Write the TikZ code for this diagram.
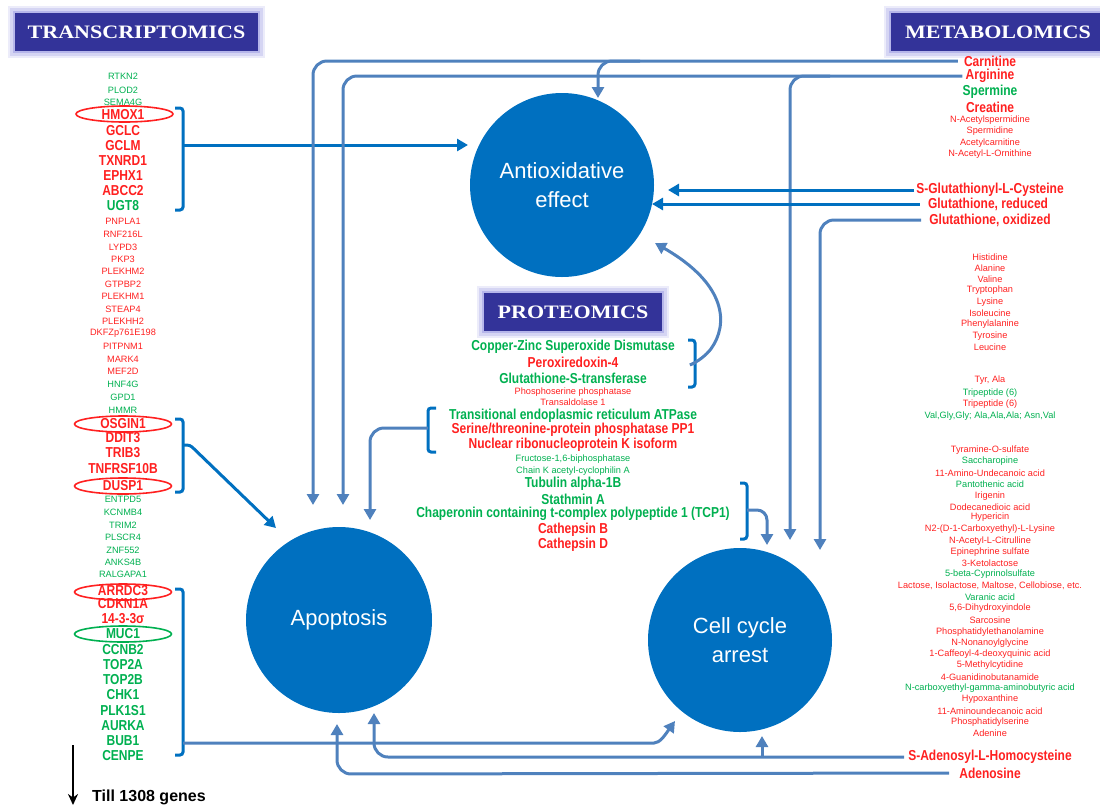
\documentclass[tikz,border=0pt]{standalone}
\usepackage{fontspec}
\setmainfont{Liberation Sans}
\newfontfamily\serifbold{Liberation Serif}
\usetikzlibrary{arrows.meta,backgrounds,calc,shapes.geometric}
\definecolor{myred}{RGB}{255,32,32}
\definecolor{mygreen}{RGB}{0,176,80}
\definecolor{cblue}{RGB}{0,112,192}
\definecolor{bblue}{RGB}{0,112,192}
\definecolor{ablue}{RGB}{79,129,189}
\definecolor{lblue}{RGB}{51,51,153}
\definecolor{glowc}{RGB}{150,150,225}
\newcommand\plainbox[1]{#1}
\newcommand\tallbox[1]{\scalebox{1}[1.2]{#1}}
\newcommand\widebox[1]{\scalebox{1.16}[1]{#1}}
\let\fmt\plainbox
\tikzset{
 sr/.style={inner sep=0pt, text=myred, font=\fontsize{9.2}{10}\selectfont, /utils/exec=\let\fmt\plainbox},
 sg/.style={inner sep=0pt, text=mygreen, font=\fontsize{9.2}{10}\selectfont, /utils/exec=\let\fmt\plainbox},
 br/.style={inner sep=0pt, text=myred, font=\fontsize{12}{14}\selectfont\bfseries, /utils/exec=\let\fmt\tallbox},
 bg/.style={inner sep=0pt, text=mygreen, font=\fontsize{12}{14}\selectfont\bfseries, /utils/exec=\let\fmt\tallbox},
 circ/.style={circle, fill=cblue, minimum size=184pt, inner sep=0pt, text=white, font=\fontsize{22}{29}\selectfont, align=center},
 lbl/.style={fill=lblue, text=white, font=\serifbold\bfseries\fontsize{19}{20}\selectfont, minimum height=38pt, inner sep=0pt},
 arr/.style={draw=ablue, line width=3pt, -{Triangle[length=11pt,width=12pt]}, rounded corners=14pt},
 barr/.style={arr, draw=bblue},
 brk/.style={draw=bblue, line width=3pt, rounded corners=3pt},
 oval/.style={draw, line width=1.6pt, ellipse, minimum width=97pt, minimum height=16pt, inner sep=0pt},
}
\begin{document}
\begin{tikzpicture}[x=1pt,y=-1pt]
\useasboundingbox (0,0) rectangle (1100,807);

% circles
\node[circ] (anti) at (562,185) {Antioxidative\\effect};
\node[circ, minimum size=186pt] (apop) at (339,620) {Apoptosis};
\node[circ] (cell) at (740,640) {Cell cycle\\arrest};

% labels
\node[lbl, minimum width=243pt] (tlab) at (136.5,32) {\widebox{TRANSCRIPTOMICS}};
\node[lbl, minimum width=214pt] (mlab) at (998,32) {\widebox{METABOLOMICS}};
\node[lbl, minimum width=178pt] (plab) at (573,312) {\widebox{PROTEOMICS}};
\begin{scope}[on background layer]
\foreach \n in {tlab,mlab,plab}{
 \fill[glowc!18] ($(\n.south west)+(-7,7)$) rectangle ($(\n.north east)+(7,-7)$);
 \fill[glowc!40] ($(\n.south west)+(-4.5,4.5)$) rectangle ($(\n.north east)+(4.5,-4.5)$);
 \fill[glowc!70] ($(\n.south west)+(-2,2)$) rectangle ($(\n.north east)+(2,-2)$);
}
\end{scope}

% transcriptomics genes
\foreach \yy/\gname/\gst [count=\i] in {
76/RTKN2/sg, 90/PLOD2/sg, 102/SEMA4G/sg, 115/HMOX1/br, 131/GCLC/br, 146/GCLM/br,
161/TXNRD1/br, 176/EPHX1/br, 191/ABCC2/br, 206/UGT8/bg, 221/PNPLA1/sr, 234/RNF216L/sr,
247/LYPD3/sr, 259/PKP3/sr, 271/PLEKHM2/sr, 284/GTPBP2/sr, 296/PLEKHM1/sr, 309/STEAP4/sr,
321/PLEKHH2/sr, 333/DKFZp761E198/sr, 346/PITPNM1/sr, 359/MARK4/sr, 371/MEF2D/sr,
384/HNF4G/sg, 397/GPD1/sg, 410/HMMR/sg, 424/OSGIN1/br, 438/DDIT3/br, 453/TRIB3/br,
469/TNFRSF10B/br, 486/DUSP1/br, 499/ENTPD5/sg, 512/KCNMB4/sg, 525/TRIM2/sg, 537/PLSCR4/sg,
550/ZNF552/sg, 562/ANKS4B/sg, 574/RALGAPA1/sg, 591/ARRDC3/br, 604/CDKN1A/br, 619/14-3-3σ/br,
634/MUC1/bg, 650/CCNB2/bg, 665/TOP2A/bg, 680/TOP2B/bg, 695/CHK1/bg, 711/PLK1S1/bg,
726/AURKA/bg, 741/BUB1/bg, 756/CENPE/bg}
 \node[\gst] (g\i) at (123,\yy) {\fmt{\gname}};

\node[oval, draw=myred] (o1) at (124.5,114) {};
\node[oval, draw=myred] (o2) at (123,424) {};
\node[oval, draw=myred] (o3) at (123,486) {};
\node[oval, draw=myred] (o4) at (123,592) {};
\node[oval, draw=mygreen] (o5) at (123,634) {};

% gene brackets
\draw[brk] (175,108) -- (183,108) -- (183,210) -- (175,210);
\draw[brk] (175,419) -- (183,419) -- (183,492) -- (175,492);
\draw[brk] (175,589) -- (183,589) -- (183,755) -- (175,755);

\draw[-{Stealth[length=11pt,width=10pt]}, line width=1.8pt] (73,745) -- (73,805);
\node[anchor=west, inner sep=0pt, font=\fontsize{16}{18}\selectfont\bfseries] (till) at (92,797) {Till 1308 genes};

% proteomics
\foreach \yy/\pname/\pst [count=\i] in {
347/{Copper-Zinc Superoxide Dismutase}/bg, 362/{Peroxiredoxin-4}/br, 378/{Glutathione-S-transferase}/bg,
392/{Phosphoserine phosphatase}/sr, 402/{Transaldolase 1}/sr, 416/{Transitional endoplasmic reticulum ATPase}/bg,
445/{Nuclear ribonucleoprotein K isoform}/br, 459/{Fructose-1,6-biphosphatase}/sg,
471/{Chain K acetyl-cyclophilin A}/sg, 484/{Tubulin alpha-1B}/bg, 499/{Stathmin A}/bg,
514/{Chaperonin containing t-complex polypeptide 1 (TCP1)}/bg, 530/{Cathepsin B}/br, 545/{Cathepsin D}/br}
 \node[\pst] (p\i) at (573,\yy) {\fmt{\pname}};
\node[br] (pser) at (573,430) {\fmt{Serine/threonine-protein phosphatase PP1}};

\draw[brk] (688,340) -- (695,340) -- (695,387) -- (688,387);
\draw[brk] (436,408) -- (428,408) -- (428,452) -- (436,452);
\draw[brk] (740,483) -- (747,483) -- (747,539) -- (740,539);

% metabolomics
\node[br] (carn) at (990,61) {\fmt{Carnitine}};
\node[br] (argi) at (990,76) {\fmt{Arginine}};
\node[br] (sglc) at (990,190) {\fmt{S-Glutathionyl-L-Cysteine}};
\node[br] (gred) at (988,204) {\fmt{Glutathione, reduced}};
\node[br] (gox) at (990,220) {\fmt{Glutathione, oxidized}};
\node[br] (sah) at (990,757) {\fmt{S-Adenosyl-L-Homocysteine}};
\node[br] (ado) at (990,773) {\fmt{Adenosine}};
\foreach \yy/\mname/\mst [count=\i] in {
92/{Spermine}/bg, 107/{Creatine}/br, 120/{N-Acetylspermidine}/sr, 131/{Spermidine}/sr,
143/{Acetylcarnitine}/sr, 154/{N-Acetyl-L-Ornithine}/sr,
257/{Histidine}/sr, 268/{Alanine}/sr, 279/{Valine}/sr, 290/{Tryptophan}/sr, 302/{Lysine}/sr,
313/{Isoleucine}/sr, 324/{Phenylalanine}/sr, 336/{Tyrosine}/sr, 347/{Leucine}/sr,
380/{Tyr, Ala}/sr, 393/{Tripeptide (6)}/sg, 404/{Tripeptide (6)}/sr,
416/{Val,Gly,Gly; Ala,Ala,Ala; Asn,Val}/sg,
450/{Tyramine-O-sulfate}/sr, 461/{Saccharopine}/sg, 473/{11-Amino-Undecanoic acid}/sr,
484/{Pantothenic acid}/sg, 496/{Irigenin}/sr, 507/{Dodecanedioic acid}/sr, 517/{Hypericin}/sr,
529/{N2-(D-1-Carboxyethyl)-L-Lysine}/sr, 541/{N-Acetyl-L-Citrulline}/sr,
552/{Epinephrine sulfate}/sr, 563/{3-Ketolactose}/sr, 574/{5-beta-Cyprinolsulfate}/sg,
586/{Lactose, Isolactose, Maltose, Cellobiose, etc.}/sr, 597/{Varanic acid}/sg,
608/{5,6-Dihydroxyindole}/sr, 620/{Sarcosine}/sr, 632/{Phosphatidylethanolamine}/sr,
643/{N-Nonanoylglycine}/sr, 654/{1-Caffeoyl-4-deoxyquinic acid}/sr, 665/{5-Methylcytidine}/sr,
677/{4-Guanidinobutanamide}/sr, 688/{N-carboxyethyl-gamma-aminobutyric acid}/sg,
699/{Hypoxanthine}/sr, 711/{11-Aminoundecanoic acid}/sr, 722/{Phosphatidylserine}/sr, 733/{Adenine}/sr}
 \node[\mst] (m\i) at (990,\yy) {\fmt{\mname}};

% arrow end points
\coordinate (e1) at (468,145);
\coordinate (e2) at (276,528);
\coordinate (e3) at (675,721);
\coordinate (e4) at (313,505);
\coordinate (e5) at (343,505);
\coordinate (e6) at (598,98);
\coordinate (e7) at (790,540);
\coordinate (e8) at (668,190);
\coordinate (e9) at (652,204);
\coordinate (e10) at (820,550);
\coordinate (e11) at (374,713);
\coordinate (e12) at (762,736);
\coordinate (e13) at (337,724);
\coordinate (e14) at (655,243);
\coordinate (e15) at (370,520);
\coordinate (e16) at (767,545);

% connectors
\draw[barr] (183,145) -- (e1);
\draw[barr, rounded corners=3pt] (183,445) -- (190,445) -- (e2);
\draw[arr] (183,743) -- (640,743) .. controls (660,743) and (665,735) .. (e3);
\draw[arr, shorten <=6pt] (carn.west) -- (313,61) -- (e4);
\draw[arr, shorten <=3pt] (argi.west) -- (343,76) -- (e5);
\draw[arr] (640,61) -- (598,61) -- (e6);
\draw[arr] (830,76) -- (790,76) -- (e7);
\draw[barr, shorten <=2pt] (sglc.west) -- (e8);
\draw[barr, shorten <=8pt] (gred.west) -- (e9);
\draw[arr, shorten <=8pt] (gox.west) -- (820,220) -- (e10);
\draw[arr, shorten <=4pt] (sah.west) -- (374,757) -- (e11);
\draw[arr] (762,757) -- (e12);
\draw[arr, shorten <=10pt] (ado.west) -- (337,774) -- (e13);
\draw[arr] (695,363) -- (703,360) .. controls (728,325) and (728,285) .. (e14);
\draw[arr] (428,428) -- (370,428) -- (e15);
\draw[arr, rounded corners=10pt] (747,510) -- (767,510) -- (e16);
\end{tikzpicture}
\end{document}
